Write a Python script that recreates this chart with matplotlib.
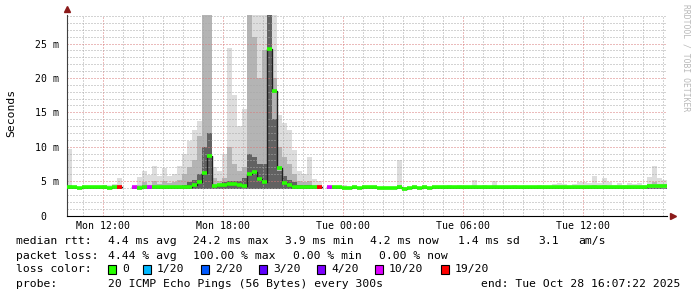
import matplotlib

matplotlib.use("Agg")

import matplotlib.pyplot as plt
import numpy as np

nan = float("nan")

# 15 minute bins, first bin starts Mon 10:12 (hours counted from Mon 00:00)
START_HOUR = 10.2
STEP_HOURS = 0.25

# median rtt per bin (ms)
median_ms = [
    4.1, 4.1, 4.0, 4.1, 4.1, 4.1, 4.1, 4.1, 4.0, 4.1,
    4.1, nan, nan, 4.1, 4.0, 4.1, 4.1, 4.1, 4.1, 4.1,
    4.1, 4.1, 4.2, 4.2, 4.2, 4.4, 4.9, 6.2, 8.6, 4.3,
    4.4, 4.5, 4.6, 4.6, 4.5, 4.3, 6.0, 6.3, 5.3, 4.8,
    24.2, 18.1, 6.9, 4.7, 4.4, 4.2, 4.1, 4.1, 4.1, 4.1,
    4.1, nan, 4.2, 4.1, 4.1, 4.0, 4.0, 4.1, 4.0, 4.1,
    4.1, 4.1, 4.0, 4.0, 4.0, 4.0, 4.1, 3.9, 4.0, 4.1,
    4.0, 4.1, 4.0, 4.1, 4.1, 4.1, 4.1, 4.1, 4.1, 4.1,
    4.1, 4.1, 4.1, 4.1, 4.1, 4.1, 4.1, 4.1, 4.1, 4.1,
    4.1, 4.1, 4.1, 4.1, 4.1, 4.1, 4.1, 4.1, 4.1, 4.1,
    4.1, 4.1, 4.2, 4.2, 4.2, 4.2, 4.2, 4.2, 4.2, 4.2,
    4.2, 4.2, 4.2, 4.2, 4.2, 4.2, 4.3, 4.3, 4.3, 4.3,
]

# lost pings out of 20 per bin
loss_count = [
    0, 0, 0, 0, 0, 0, 0, 0, 0, 0,
    19, 0, 0, 10, 0, 0, 10, 0, 0, 0,
    0, 0, 0, 0, 0, 0, 0, 0, 0, 0,
    0, 0, 0, 0, 0, 0, 0, 0, 0, 0,
    0, 0, 0, 0, 0, 0, 0, 0, 0, 0,
    19, 0, 10, 0, 0, 0, 0, 0, 0, 0,
    0, 0, 0, 0, 0, 0, 0, 0, 0, 0,
    0, 0, 0, 0, 0, 0, 0, 0, 0, 0,
    0, 0, 0, 0, 0, 0, 0, 0, 0, 0,
    0, 0, 0, 0, 0, 0, 0, 0, 0, 0,
    0, 0, 0, 0, 0, 0, 0, 0, 0, 0,
    0, 0, 0, 0, 0, 0, 0, 0, 0, 0,
]

# smoke: top of the outer (light), middle and inner (dark) bands, ms
smoke_max = [
    9.6, 4.2, 4.2, 4.2, 4.2, 4.2, 4.3, 4.5, 4.5, 4.6,
    5.4, nan, nan, 4.3, 5.6, 6.5, 5.9, 7.2, 5.8, 6.9,
    5.7, 6.0, 7.2, 9.0, 10.8, 12.5, 13.8, 29.5, 29.5, 7.0,
    6.5, 9.0, 24.3, 17.5, 13.0, 15.5, 29.5, 29.5, 29.5, 29.5,
    29.5, 29.5, 14.6, 13.5, 12.5, 9.5, 6.5, 6.0, 8.5, 5.3,
    5.0, nan, 4.3, 4.2, 4.2, 4.4, 4.2, 4.2, 4.2, 4.2,
    4.2, 4.2, 4.2, 4.2, 4.2, 4.2, 8.1, 4.2, 4.2, 4.2,
    4.2, 4.2, 4.2, 4.2, 4.2, 4.2, 4.4, 4.2, 4.4, 4.2,
    4.2, 5.1, 4.2, 4.4, 4.2, 5.0, 4.2, 4.2, 4.2, 4.4,
    4.2, 4.2, 4.2, 4.2, 4.4, 4.2, 4.2, 4.6, 4.7, 4.6,
    4.3, 4.6, 4.8, 4.9, 4.7, 5.7, 4.7, 5.4, 4.9, 4.5,
    4.7, 4.4, 4.7, 4.6, 4.7, 4.5, 5.6, 7.2, 5.4, 5.2,
]

smoke_mid = [
    4.5, 4.1, 4.1, 4.1, 4.1, 4.1, 4.1, 4.2, 4.2, 4.2,
    4.5, nan, nan, 4.1, 4.4, 4.8, 4.5, 5.0, 4.6, 5.0,
    4.7, 4.8, 5.2, 6.0, 7.0, 8.0, 11.5, 29.5, 29.5, 5.5,
    5.0, 5.5, 10.0, 7.5, 6.5, 7.0, 29.5, 26.0, 20.0, 24.0,
    29.5, 20.0, 10.0, 8.5, 7.5, 6.0, 5.0, 4.8, 5.0, 4.5,
    4.4, nan, 4.1, 4.1, 4.1, 4.1, 4.1, 4.1, 4.1, 4.1,
    4.1, 4.1, 4.1, 4.1, 4.1, 4.1, 4.5, 4.1, 4.1, 4.1,
    4.1, 4.1, 4.1, 4.1, 4.1, 4.1, 4.1, 4.1, 4.1, 4.1,
    4.1, 4.3, 4.1, 4.1, 4.1, 4.3, 4.1, 4.1, 4.1, 4.1,
    4.1, 4.1, 4.1, 4.1, 4.1, 4.1, 4.1, 4.1, 4.1, 4.1,
    4.1, 4.1, 4.1, 4.1, 4.1, 4.4, 4.1, 4.4, 4.1, 4.1,
    4.1, 4.1, 4.1, 4.1, 4.1, 4.1, 4.6, 4.8, 4.6, 4.6,
]

smoke_dark = [
    4.0, 4.0, 4.0, 4.0, 4.0, 4.0, 4.0, 4.0, 4.0, 4.0,
    4.0, nan, nan, 4.0, 4.0, 4.0, 4.0, 4.0, 4.0, 4.0,
    4.0, 4.0, 4.0, 4.4, 4.8, 5.2, 6.0, 10.0, 12.0, 4.5,
    4.6, 4.8, 5.0, 5.0, 5.0, 5.5, 9.0, 8.5, 7.5, 7.5,
    29.5, 14.0, 6.5, 5.8, 5.2, 4.8, 4.5, 4.4, 4.4, 4.3,
    4.2, nan, 4.0, 4.0, 4.0, 4.0, 4.0, 4.0, 4.0, 4.0,
    4.0, 4.0, 4.0, 4.0, 4.0, 4.0, 4.0, 4.0, 4.0, 4.0,
    4.0, 4.0, 4.0, 4.0, 4.0, 4.0, 4.0, 4.0, 4.0, 4.0,
    4.0, 4.0, 4.0, 4.0, 4.0, 4.0, 4.0, 4.0, 4.0, 4.0,
    4.0, 4.0, 4.0, 4.0, 4.0, 4.0, 4.0, 4.0, 4.0, 4.0,
    4.0, 4.0, 4.0, 4.0, 4.0, 4.0, 4.0, 4.0, 4.0, 4.0,
    4.0, 4.0, 4.0, 4.0, 4.0, 4.0, 4.0, 4.0, 4.0, 4.0,
]
SMOKE_FLOOR = 3.9

x_tick_hours = [12, 18, 24, 30, 36]
x_tick_labels = ["Mon 12:00", "Mon 18:00", "Tue 00:00", "Tue 06:00", "Tue 12:00"]
y_tick_values = [0, 5, 10, 15, 20, 25]
y_tick_labels = ["0  ", "5 m", "10 m", "15 m", "20 m", "25 m"]

loss_levels = [0, 1, 2, 3, 4, 10, 19]
loss_labels = ["0", "1/20", "2/20", "3/20", "4/20", "10/20", "19/20"]
loss_colors = ["#26ff00", "#00b8ff", "#0059ff", "#5e00ff", "#7e00ff", "#dd00ff", "#ff0000"]

MONO = "DejaVu Sans Mono"
W, H = 697, 297

fig = plt.figure(figsize=(W / 100, H / 100), dpi=100)
ax = fig.add_axes([67 / W, 1 - 215.5 / H, 600 / W, 200.5 / H])

times = START_HOUR + STEP_HOURS * np.arange(len(median_ms))
median = np.array(median_ms)

# smoke bands, outer first
for top, color in [(smoke_max, "#dddddd"), (smoke_mid, "#b4b4b4"), (smoke_dark, "#626262")]:
    top = np.array(top)
    ax.bar(times, top - SMOKE_FLOOR, bottom=SMOKE_FLOOR, width=STEP_HOURS,
           align="edge", color=color, linewidth=0, antialiased=False, zorder=1)

# thin dark median trace, then loss-coloured median segments
ax.step(times, median, where="post", color="#202020", linewidth=1.0, zorder=2)
color_of = dict(zip(loss_levels, loss_colors))
ax.hlines(median, times, times + STEP_HOURS,
          colors=[color_of[c] for c in loss_count], linewidth=2.6, zorder=3)

ax.set_xlim(START_HOUR - 0.02, START_HOUR + 30 - 0.02)
ax.set_ylim(0, 29.15)

ax.set_xticks(x_tick_hours)
ax.set_xticklabels(x_tick_labels, fontfamily=MONO, fontsize=7.1)
ax.set_xticks(np.arange(11, 41), minor=True)
ax.set_yticks(y_tick_values)
ax.set_yticklabels(y_tick_labels, fontfamily=MONO, fontsize=7.1)
ax.set_yticks(np.arange(1, 30), minor=True)
ax.tick_params(which="both", length=0)
ax.tick_params(axis="x", pad=4)
ax.tick_params(axis="y", pad=6)

ax.grid(which="minor", color="#a8a8a8", linestyle=(0, (1, 2)), linewidth=0.72)
ax.grid(which="major", color="#d87878", linestyle=(0, (1, 2)), linewidth=0.72)
ax.set_axisbelow("line")

for side in ["top", "right"]:
    ax.spines[side].set_visible(False)
ax.spines["left"].set_color("#404040")
ax.spines["bottom"].set_color("black")
ax.spines["left"].set_linewidth(0.8)
ax.spines["bottom"].set_linewidth(0.8)

# axis arrows
ax.plot([0], [1.0 + 6 / 200.5], marker="^", markersize=4, color="#8b1a1a",
        transform=ax.transAxes, clip_on=False)
ax.plot([1.0 + 6 / 600], [0], marker=">", markersize=4, color="#8b1a1a",
        transform=ax.transAxes, clip_on=False)

fig.text(11 / W, 1 - 113 / H, "Seconds", rotation=90, ha="center", va="center",
         fontfamily=MONO, fontsize=8.2)
fig.text(686 / W, 1 - 4 / H, "RRDTOOL / TOBI OETIKER", rotation=270,
         ha="center", va="top", fontfamily=MONO, fontsize=5.8, color="#b8b8b8")


# legend block below the graph
def put(x, y, s):
    fig.text(x / W, 1 - y / H, s, ha="left", va="center", fontfamily=MONO, fontsize=8.2)


put(16, 241, "median rtt:")
for x, s in [(108, "4.4 ms avg"), (193, "24.2 ms max"), (285, "3.9 ms min"),
             (370, "4.2 ms now"), (458, "1.4 ms sd"), (538, "3.1"), (578, "am/s")]:
    put(x, 241, s)

put(16, 256, "packet loss:")
for x, s in [(108, "4.44 % avg"), (193, "100.00 % max"), (293, "0.00 % min"),
             (379, "0.00 % now")]:
    put(x, 256, s)

put(16, 269, "loss color:")
box_x = [108, 143, 201, 259, 317, 375, 441]
for bx, color, label in zip(box_x, loss_colors, loss_labels):
    fig.patches.append(plt.Rectangle((bx / W, 1 - 274 / H), 8 / W, 9 / H,
                                     facecolor=color, edgecolor="black", linewidth=0.8,
                                     transform=fig.transFigure))
    put(bx + 14, 269, label)

put(16, 284, "probe:")
put(108, 284, "20 ICMP Echo Pings (56 Bytes) every 300s")
fig.text(680 / W, 1 - 284 / H, "end: Tue Oct 28 16:07:22 2025", ha="right", va="center",
         fontfamily=MONO, fontsize=8.2)

fig.savefig("out.png", dpi=100, facecolor="white")
